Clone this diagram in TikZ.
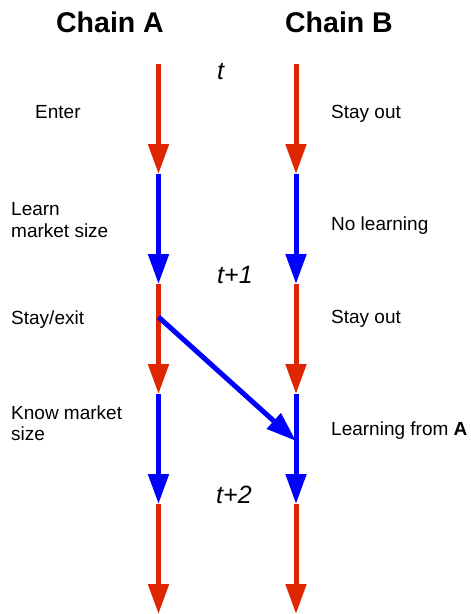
\documentclass[tikz,border=0pt]{standalone}
\usepackage{fontspec}
\setmainfont{Liberation Sans}
\usetikzlibrary{arrows.meta}
\definecolor{chainred}{RGB}{222,38,0}
\definecolor{chainblue}{RGB}{0,0,255}

\begin{document}
\begin{tikzpicture}[x=1pt,y=-1pt,
    redarrow/.style={draw=chainred,line width=5pt,-{Triangle[length=30pt,width=20pt]}},
    bluearrow/.style={draw=chainblue,line width=5pt,-{Triangle[length=30pt,width=20pt]}},
    heading/.style={font=\fontsize{28.5}{31}\selectfont\bfseries,anchor=base,inner sep=0pt},
    tmark/.style={font=\fontsize{25}{28}\selectfont\itshape,anchor=base west,inner sep=0pt},
    txt/.style={font=\fontsize{19}{21.5}\selectfont,align=left,inner sep=0pt}]

    \useasboundingbox (0,0) rectangle (471,614);

    % Headings
    \node[heading] (headA) at (110,32) {Chain A};
    \node[heading] (headB) at (339,32) {Chain B};

    % Time marks
    \node[tmark] (t0) at (217,79) {t};
    \node[tmark] (t1) at (217,283) {t+1};
    \node[tmark] (t2) at (216,503) {t+2};

    % Chain A
    \coordinate (a0) at (158.5,64);
    \coordinate (a1) at (158.5,174);
    \coordinate (a2) at (158.5,284);
    \coordinate (a3) at (158.5,394);
    \coordinate (a4) at (158.5,504);
    \coordinate (a5) at (158.5,614);
    \draw[redarrow] (a0) -- (a1);
    \draw[bluearrow] (a1) -- (a2);
    \draw[redarrow] (a2) -- (a3);
    \draw[bluearrow] (a3) -- (a4);
    \draw[redarrow] (a4) -- (a5);

    \node[txt,anchor=base west] (enter) at (35,118) {Enter};
    \node[txt,anchor=north west] (learn) at (11,202.4) {Learn\\market size};
    \node[txt,anchor=base west] (stayexit) at (11,324) {Stay/exit};
    \node[txt,anchor=north west] (know) at (11,405.4) {Know market\\size};

    % Chain B
    \coordinate (b0) at (296,64);
    \coordinate (b1) at (296,174);
    \coordinate (b2) at (296,284);
    \coordinate (b3) at (296,394);
    \coordinate (b4) at (296,504);
    \coordinate (b5) at (296,614);
    \draw[redarrow] (b0) -- (b1);
    \draw[bluearrow] (b1) -- (b2);
    \draw[redarrow] (b2) -- (b3);
    \draw[bluearrow] (b3) -- (b4);
    \draw[redarrow] (b4) -- (b5);

    \node[txt,anchor=base west] (out1) at (331,118) {Stay out};
    \node[txt,anchor=base west] (nolearn) at (331,230) {No learning};
    \node[txt,anchor=base west] (out2) at (331,323) {Stay out};
    \node[txt,anchor=base west] (fromA) at (331,435) {Learning from \textbf{A}};

    % Spill-over from A to B
    \coordinate (aexit) at (158.5,317);
    \coordinate (bin) at (296,441);
    \draw[bluearrow] (aexit) -- (bin);

\end{tikzpicture}
\end{document}
